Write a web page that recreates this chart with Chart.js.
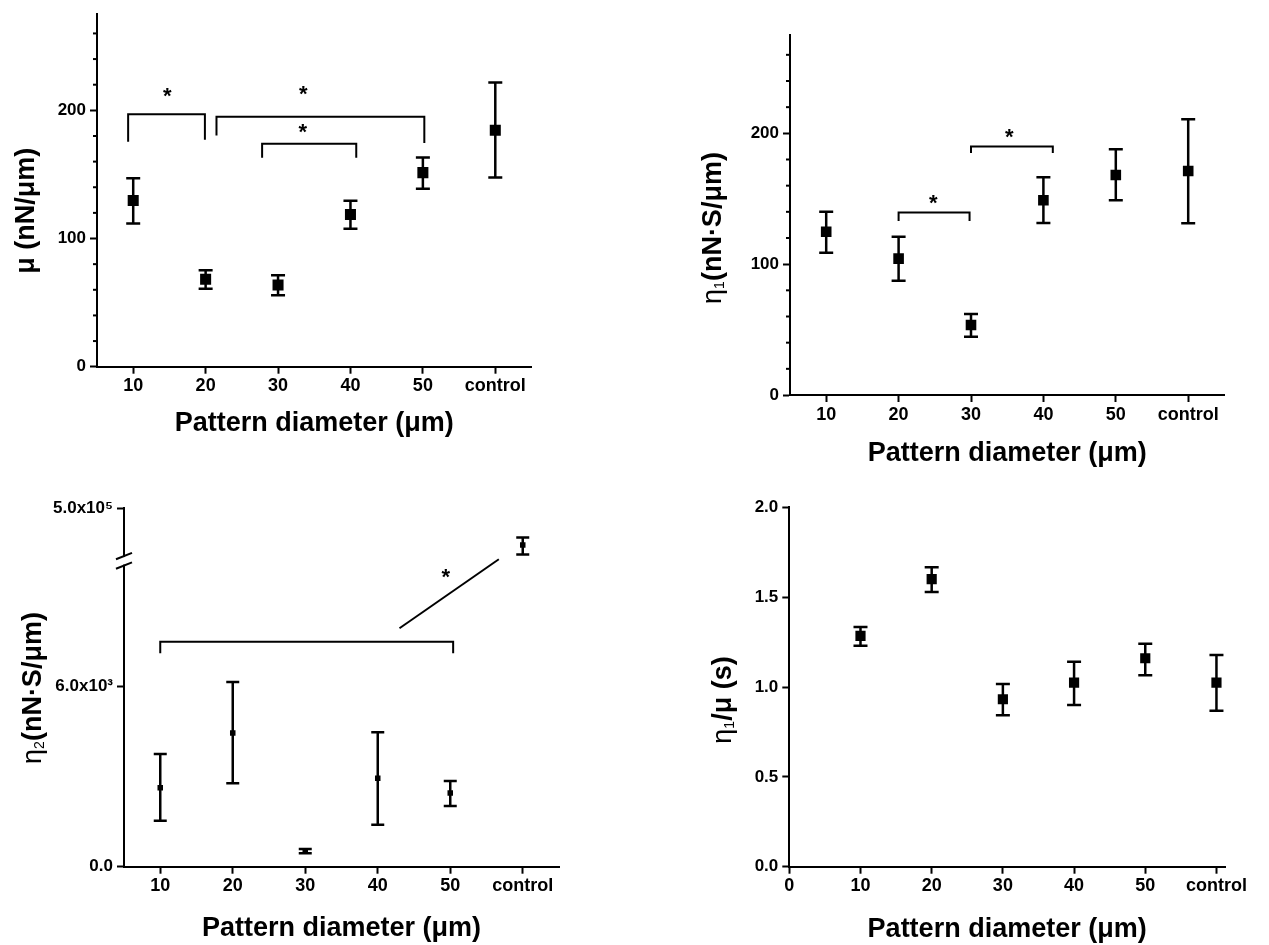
<!DOCTYPE html>
<html>
<head>
<meta charset="utf-8">
<script src="https://cdn.jsdelivr.net/npm/chart.js@4.4.1/dist/chart.umd.min.js"></script>
<style>
html, body { margin: 0; padding: 0; background: #fff; }
#wrap { position: relative; width: 1269px; height: 945px; overflow: hidden; }
.panel { position: absolute; }
</style>
</head>
<body>
<div id="wrap">
	<div class="panel" style="left:0px;top:0px"><canvas id="cA" width="620" height="472"></canvas></div>
	<div class="panel" style="left:634px;top:0px"><canvas id="cB" width="635" height="472"></canvas></div>
	<div class="panel" style="left:0px;top:472px"><canvas id="cC" width="620" height="473"></canvas></div>
	<div class="panel" style="left:634px;top:472px"><canvas id="cD" width="635" height="473"></canvas></div>
</div>
<script>
// x categories, "control" sits on the axis at 60
const categories = ['10', '20', '30', '40', '50', 'control'];
const diameters = [10, 20, 30, 40, 50, 60];

// mu (nN/um)
const muMean = [129.7, 68.3, 63.7, 118.7, 151.4, 184.4];
const muLow  = [111.8, 60.9, 55.8, 107.7, 138.9, 147.6];
const muHigh = [147.0, 75.2, 71.3, 129.4, 163.2, 221.7];
const muTicks = [0, 100, 200];

// eta1 (nN.s/um)
const eta1Mean = [124.8, 104.2, 53.5, 148.8, 168.1, 171.2];
const eta1Low  = [108.7, 87.4, 44.6, 131.4, 148.8, 131.2];
const eta1High = [140.1, 121.0, 61.9, 166.4, 187.8, 210.7];
const eta1Ticks = [0, 100, 200];

// eta2 (nN.s/um), broken axis: control is on the upper part
const eta2Mean = [2625, 4442, 522, 2937, 2448, 423000];
const eta2Low  = [1528, 2770, 445, 1395, 2017, 403000];
const eta2High = [3744, 6136, 588, 4465, 2847, 439000];
const eta2Ticks = [0, 6000];
const eta2TicksUpper = [500000];
const eta2TickLabels = { 0: '0.0', 6000: '6.0x10\u00b3', 500000: '5.0x10\u2075' };

// eta1/mu (s)
const ratioMean = [1.284, 1.600, 0.932, 1.024, 1.160, 1.024];
const ratioLow  = [1.230, 1.529, 0.843, 0.900, 1.065, 0.868];
const ratioHigh = [1.334, 1.666, 1.017, 1.141, 1.241, 1.178];
const ratioTicks = [0, 0.5, 1.0, 1.5, 2.0];

// significance brackets: [x from, x to, top, left leg end, right leg end]
const muBrackets = [[9.3, 19.9, 197, 175.4, 177], [21.5, 50.2, 194.9, 180.3, 174.5], [27.8, 40.8, 174, 163, 163]];
const muStars = [[14.7, 211], [33.5, 212.8], [33.4, 183.4]];
const eta1Brackets = [[20, 29.8, 139.5, 133, 133], [30, 41.3, 190, 185, 185]];
const eta1Stars = [[24.8, 147], [35.3, 197]];
const eta2Brackets = [[10, 50.4, 7475, 7090, 7090]];
const eta2Slant = [[43.0, 7918], [56.7, 10210]];
const eta2Stars = [[49.4, 9611]];

const FONT = '"Liberation Sans", Arial, Helvetica, sans-serif';

function decoPlugin(p) {
	return {
		id: 'deco',
		beforeDatasetsDraw(chart) {
			const ctx = chart.ctx;
			ctx.save();
			ctx.strokeStyle = '#000';
			ctx.lineWidth = 2.5;
			chart.data.datasets.forEach((ds, i) => {
				const meta = chart.getDatasetMeta(i);
				const xs = chart.scales[meta.xAxisID], ys = chart.scales[meta.yAxisID];
				ds.data.forEach((pt, j) => {
					const x = xs.getPixelForValue(pt.x);
					const y1 = ys.getPixelForValue(ds.lo[j]), y2 = ys.getPixelForValue(ds.hi[j]);
					ctx.beginPath();
					ctx.moveTo(x, y1); ctx.lineTo(x, y2);
					ctx.moveTo(x - p.cap, y1); ctx.lineTo(x + p.cap, y1);
					ctx.moveTo(x - p.cap, y2); ctx.lineTo(x + p.cap, y2);
					ctx.stroke();
				});
			});
			ctx.restore();
		},
		afterDraw(chart) {
			const ctx = chart.ctx, ca = chart.chartArea;
			const xs = chart.scales.x, ys = chart.scales.y;
			ctx.save();
			ctx.strokeStyle = '#000';
			ctx.fillStyle = '#000';
			// minor ticks
			ctx.lineWidth = 2;
			(p.minor || []).forEach(v => {
				const y = ys.getPixelForValue(v);
				ctx.beginPath(); ctx.moveTo(ca.left - 4, y); ctx.lineTo(ca.left, y); ctx.stroke();
			});
			// axis break
			if (p.brk) {
				const y2s = chart.scales.y2;
				const a = y2s.getPixelForValue(p.brk), b = y2s.bottom;
				ctx.fillStyle = '#fff';
				ctx.fillRect(ca.left - 3, a + 1, 6, b - a - 2);
				ctx.fillStyle = '#000';
				[a, b].forEach(y => {
					ctx.beginPath(); ctx.moveTo(ca.left - 8, y + 3.2); ctx.lineTo(ca.left + 8, y - 3.2); ctx.stroke();
				});
			}
			// brackets
			ctx.lineWidth = 2;
			(p.brackets || []).forEach(b => {
				const x1 = xs.getPixelForValue(b[0]), x2 = xs.getPixelForValue(b[1]);
				ctx.beginPath();
				ctx.moveTo(x1, ys.getPixelForValue(b[3]));
				ctx.lineTo(x1, ys.getPixelForValue(b[2]));
				ctx.lineTo(x2, ys.getPixelForValue(b[2]));
				ctx.lineTo(x2, ys.getPixelForValue(b[4]));
				ctx.stroke();
			});
			if (p.slant) {
				ctx.beginPath();
				ctx.moveTo(xs.getPixelForValue(p.slant[0][0]), ys.getPixelForValue(p.slant[0][1]));
				ctx.lineTo(xs.getPixelForValue(p.slant[1][0]), ys.getPixelForValue(p.slant[1][1]));
				ctx.stroke();
			}
			ctx.font = 'bold 22px ' + FONT;
			ctx.textAlign = 'center';
			ctx.textBaseline = 'alphabetic';
			(p.stars || []).forEach(s => {
				ctx.fillText('*', xs.getPixelForValue(s[0]), ys.getPixelForValue(s[1]) + 7);
			});
			// x title
			ctx.font = 'bold 27px ' + FONT;
			ctx.textBaseline = 'middle';
			ctx.fillText('Pattern diameter (\u03bcm)', (ca.left + ca.right) / 2, ca.bottom + p.xTitleDy);
			// y title, rotated, made of pieces (for subscripts)
			ctx.translate(ca.left - p.yTitleDx, (ca.top + ca.bottom) / 2 + p.yTitleDy);
			ctx.rotate(-Math.PI / 2);
			ctx.textAlign = 'left';
			let total = 0;
			p.yTitle.forEach(s => { ctx.font = s.f + FONT; s.w = ctx.measureText(s.t).width; total += s.w; });
			let cx = -total / 2;
			p.yTitle.forEach(s => {
				ctx.font = s.f + FONT;
				ctx.fillText(s.t, cx, s.dy || 0);
				cx += s.w;
			});
			ctx.restore();
		}
	};
}

function buildPanel(id, p) {
	const tickFontY = { family: FONT, size: 17, weight: 'bold' };
	const tickFontX = { family: FONT, size: 18, weight: 'bold' };
	const grid = { drawOnChartArea: false, tickLength: 7, tickWidth: 2, tickColor: '#000' };
	const border = { color: '#000', width: 2 };
	const scales = {
		x: {
			type: 'linear', min: p.xMin, max: p.xMax,
			afterBuildTicks: s => { s.ticks = p.xTicks.map(v => ({ value: v })); },
			afterFit: s => { s.height = p.xh; },
			ticks: { autoSkip: false, maxRotation: 0, padding: 2, color: '#000', font: tickFontX,
				callback: (v, i) => p.xLabels[i] },
			grid: grid, border: border
		},
		y: {
			type: 'linear', position: 'left', min: p.yMin, max: p.yMax,
			afterBuildTicks: s => { s.ticks = p.yTicks.map(v => ({ value: v })); },
			afterFit: s => { s.width = p.yw; },
			ticks: { autoSkip: false, padding: 4, color: '#000', font: tickFontY, callback: p.yLabel },
			grid: grid, border: border
		}
	};
	if (p.upper) {
		scales.y.stack = 'eta';
		scales.y.stackWeight = p.upper.lowerWeight;
		scales.y2 = {
			type: 'linear', position: 'left', stack: 'eta', stackWeight: p.upper.weight,
			min: p.upper.min, max: p.upper.max,
			afterBuildTicks: s => { s.ticks = p.upper.ticks.map(v => ({ value: v })); },
			afterFit: s => { s.width = p.yw; },
			ticks: { autoSkip: false, padding: 4, color: '#000', font: tickFontY, callback: p.yLabel },
			grid: grid, border: border
		};
	}
	const datasets = p.sets.map(s => ({
		data: s.idx.map(i => ({ x: diameters[i], y: p.mean[i] })),
		lo: s.idx.map(i => p.low[i]),
		hi: s.idx.map(i => p.high[i]),
		yAxisID: s.axis,
		showLine: false,
		pointStyle: 'rect',
		pointRadius: p.radius,
		pointBackgroundColor: '#000',
		pointBorderColor: '#000',
		pointBorderWidth: 0
	}));
	return new Chart(document.getElementById(id), {
		type: 'scatter',
		data: { datasets: datasets },
		options: {
			responsive: false,
			animation: false,
			events: [],
			layout: { padding: p.pad },
			plugins: { legend: { display: false }, tooltip: { enabled: false } },
			scales: scales
		},
		plugins: [decoPlugin(p)]
	});
}

const allIdx = [0, 1, 2, 3, 4, 5];
const minor20 = [20, 40, 60, 80, 120, 140, 160, 180, 220, 240, 260];

buildPanel('cA', {
	xMin: 5, xMax: 65, xTicks: diameters, xLabels: categories,
	yMin: 0, yMax: 275, yTicks: muTicks, yLabel: v => String(v),
	mean: muMean, low: muLow, high: muHigh, sets: [{ idx: allIdx, axis: 'y' }],
	radius: 7.8, cap: 7, minor: minor20,
	brackets: muBrackets, stars: muStars,
	pad: { left: 0, top: 8.5, right: 88.5, bottom: 0 }, yw: 97, xh: 105.3,
	xTitleDy: 56.6, yTitleDx: 70.2, yTitleDy: 20.4,
	yTitle: [{ t: '\u03bc (nN/\u03bcm)', f: 'bold 27px ' }]
});

buildPanel('cB', {
	xMin: 5, xMax: 65, xTicks: diameters, xLabels: categories,
	yMin: 0, yMax: 275, yTicks: eta1Ticks, yLabel: v => String(v),
	mean: eta1Mean, low: eta1Low, high: eta1High, sets: [{ idx: allIdx, axis: 'y' }],
	radius: 7.5, cap: 7, minor: minor20,
	brackets: eta1Brackets, stars: eta1Stars,
	pad: { left: 36, top: 35.2, right: 44.6, bottom: 0 }, yw: 120, xh: 77,
	xTitleDy: 58.3, yTitleDx: 76.7, yTitleDy: 12.9,
	yTitle: [{ t: '\u03b7', f: '27px ' }, { t: '1', f: '14px ', dy: 7 }, { t: '(nN\u00b7S/\u03bcm)', f: 'bold 27px ' }]
});

buildPanel('cC', {
	xMin: 5, xMax: 65, xTicks: diameters, xLabels: categories,
	yMin: 0, yMax: 10000, yTicks: eta2Ticks, yLabel: v => eta2TickLabels[v],
	upper: { min: 380000, max: 500000, ticks: eta2TicksUpper, weight: 57.3, lowerWeight: 301.1 },
	mean: eta2Mean, low: eta2Low, high: eta2High,
	sets: [{ idx: [0, 1, 2, 3, 4], axis: 'y' }, { idx: [5], axis: 'y2' }],
	radius: 3.9, cap: 6.5, brk: 400000,
	brackets: eta2Brackets, stars: eta2Stars, slant: eta2Slant,
	pad: { left: 4, top: 36.3, right: 61, bottom: 0 }, yw: 120, xh: 78.3,
	xTitleDy: 61.6, yTitleDx: 90.7, yTitleDy: 0.5,
	yTitle: [{ t: '\u03b7', f: '27px ' }, { t: '2', f: '14px ', dy: 7 }, { t: '(nN\u00b7S/\u03bcm)', f: 'bold 27px ' }]
});

buildPanel('cD', {
	xMin: 0, xMax: 61.2, xTicks: [0].concat(diameters), xLabels: ['0'].concat(categories),
	yMin: 0, yMax: 2, yTicks: ratioTicks, yLabel: v => v.toFixed(1),
	mean: ratioMean, low: ratioLow, high: ratioHigh, sets: [{ idx: allIdx, axis: 'y' }],
	radius: 7.2, cap: 7,
	pad: { left: 35.3, top: 35.3, right: 44, bottom: 0 }, yw: 120, xh: 78.3,
	xTitleDy: 63.3, yTitleDx: 66, yTitleDy: 13,
	yTitle: [{ t: '\u03b7', f: '27px ' }, { t: '1', f: '14px ', dy: 7 }, { t: '/\u03bc (s)', f: 'bold 27px ' }]
});
</script>
</body>
</html>
